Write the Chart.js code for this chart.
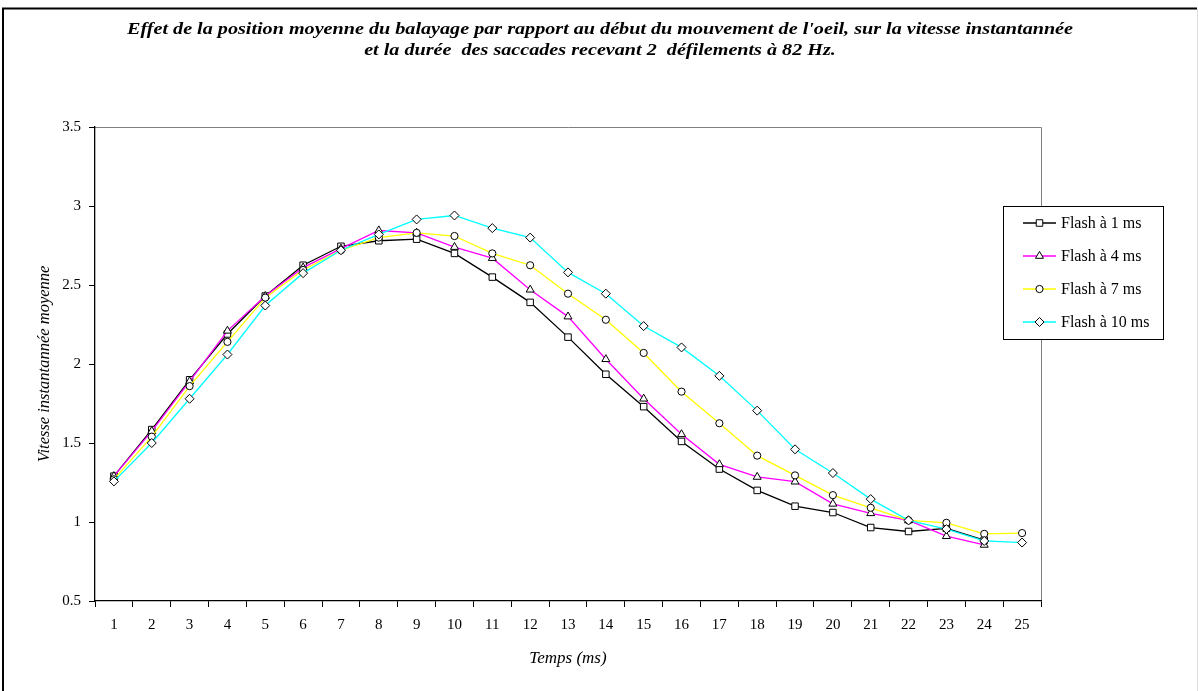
<!DOCTYPE html>
<html>
<head>
<meta charset="utf-8">
<script src="https://cdn.jsdelivr.net/npm/chart.js@4/dist/chart.umd.min.js"></script>
<style>
  html, body { margin: 0; padding: 0; background: #fff; }
  #wrap { width: 1198px; height: 691px; position: relative; }
</style>
</head>
<body>
<div id="wrap"><canvas id="c" width="1198" height="691"></canvas></div>
<script>
// categories (Temps en ms)
const temps = ['1','2','3','4','5','6','7','8','9','10','11','12','13','14','15','16','17','18','19','20','21','22','23','24','25'];

// series
const flash1 = [1.29, 1.585, 1.90, 2.19, 2.43, 2.625, 2.745, 2.78, 2.79, 2.70, 2.55, 2.39, 2.17, 1.935, 1.73, 1.51, 1.335, 1.20, 1.10, 1.06, 0.965, 0.94, 0.96, 0.885];
const flash4 = [1.29, 1.575, 1.89, 2.21, 2.43, 2.61, 2.73, 2.845, 2.83, 2.74, 2.67, 2.47, 2.30, 2.03, 1.78, 1.555, 1.365, 1.285, 1.255, 1.115, 1.055, 1.01, 0.91, 0.855];
const flash7 = [1.27, 1.54, 1.86, 2.14, 2.42, 2.595, 2.72, 2.80, 2.83, 2.81, 2.70, 2.625, 2.445, 2.28, 2.07, 1.825, 1.625, 1.42, 1.295, 1.17, 1.09, 1.01, 0.995, 0.925, 0.93];
const flash10 = [1.257, 1.50, 1.78, 2.06, 2.37, 2.575, 2.72, 2.82, 2.915, 2.94, 2.86, 2.80, 2.58, 2.445, 2.24, 2.105, 1.925, 1.705, 1.46, 1.31, 1.145, 1.01, 0.955, 0.88, 0.87];

const seriesNames = ['Flash à 1 ms', 'Flash à 4 ms', 'Flash à 7 ms', 'Flash à 10 ms'];
const titleLines = [
  "Effet de la position moyenne du balayage par rapport au début du mouvement de l'oeil, sur la vitesse instantannée",
  "et la durée  des saccades recevant 2  défilements à 82 Hz."
];

const SERIF = '"Liberation Serif", "Times New Roman", serif';

function ds(label, data, color, style, radius, order) {
  return {
    label, data, order,
    borderColor: color, borderWidth: 1.3,
    pointStyle: style, pointRadius: radius, pointHoverRadius: radius,
    pointBackgroundColor: '#fff', pointBorderColor: '#000', pointBorderWidth: 1,
    tension: 0, fill: false
  };
}

//frame, title, gray plot border, and the boxed legend on the right
const decor = {
  id: 'decor',
  beforeDraw(chart) {
    const {ctx, chartArea: a} = chart;
    ctx.save();
    ctx.fillStyle = '#fff';
    ctx.fillRect(0, 0, chart.width, chart.height);
    ctx.strokeStyle = '#000';
    ctx.lineWidth = 2;
    ctx.beginPath();
    ctx.moveTo(3, 691); ctx.lineTo(3, 8.5); ctx.lineTo(1197, 8.5);
    ctx.stroke();
    ctx.strokeStyle = '#ddd';
    ctx.lineWidth = 1;
    ctx.beginPath();
    ctx.moveTo(1197.5, 9); ctx.lineTo(1197.5, 691);
    ctx.stroke();
    ctx.strokeStyle = '#808080';
    ctx.beginPath();
    ctx.moveTo(a.left, a.top + 0.5); ctx.lineTo(a.right + 0.5, a.top + 0.5); ctx.lineTo(a.right + 0.5, a.bottom);
    ctx.stroke();
    // title: the original text is stretched wide, so scale it horizontally to the same span
    ctx.font = 'bold italic 17px ' + SERIF;
    const sx = 946 / ctx.measureText(titleLines[0]).width;
    ctx.translate(600, 0);
    ctx.scale(sx, 1);
    ctx.fillStyle = '#000';
    ctx.textAlign = 'center';
    ctx.textBaseline = 'alphabetic';
    ctx.fillText(titleLines[0], 0, 34);
    ctx.fillText(titleLines[1], 0, 55);
    ctx.restore();
  },
  afterDraw(chart) {
    const {ctx} = chart;
    const bx = 1003.5, by = 206.5, bw = 160, bh = 133;
    ctx.save();
    ctx.fillStyle = '#fff';
    ctx.fillRect(bx, by, bw, bh);
    ctx.strokeStyle = '#000';
    ctx.lineWidth = 1;
    ctx.strokeRect(bx, by, bw, bh);
    ctx.font = '16px ' + SERIF;
    ctx.textBaseline = 'middle';
    ctx.textAlign = 'left';
    chart.data.datasets.forEach((d, i) => {
      const y = 223 + i * 33;
      ctx.strokeStyle = d.borderColor;
      ctx.lineWidth = 1.3;
      ctx.beginPath();
      ctx.moveTo(1023, y); ctx.lineTo(1056, y);
      ctx.stroke();
      ctx.fillStyle = '#fff';
      ctx.strokeStyle = '#000';
      ctx.lineWidth = 1;
      Chart.helpers.drawPoint(ctx, {pointStyle: d.pointStyle, radius: d.pointRadius, rotation: 0, borderWidth: 1}, 1039.5, y);
      ctx.fillStyle = '#000';
      ctx.fillText(d.label, 1061, y + 1);
    });
    ctx.restore();
  }
};

new Chart(document.getElementById('c'), {
  type: 'line',
  data: {
    labels: temps,
    datasets: [
      ds(seriesNames[0], flash1, '#000000', 'rect', 4.6, 4),
      ds(seriesNames[1], flash4, '#ff00ff', 'triangle', 4.6, 3),
      ds(seriesNames[2], flash7, '#ffff00', 'circle', 3.6, 2),
      ds(seriesNames[3], flash10, '#00ffff', 'rectRot', 4.5, 1)
    ]
  },
  options: {
    responsive: false,
    animation: false,
    events: [],
    layout: {padding: {left: 0, top: 127, right: 157, bottom: 0}},
    plugins: {legend: {display: false}, title: {display: false}, tooltip: {enabled: false}},
    scales: {
      x: {
        offset: true,
        grid: {display: true, drawOnChartArea: false, offset: true, color: '#000', tickLength: 6, tickWidth: 1},
        border: {color: '#000', width: 1.3},
        ticks: {color: '#000', font: {family: SERIF, size: 15}, padding: 9, maxRotation: 0, autoSkip: false},
        title: {display: true, text: 'Temps (ms)', color: '#000', font: {family: SERIF, size: 17, style: 'italic'}, padding: {top: 0, bottom: 22}},
        afterFit(s) { s.height = 90; }
      },
      y: {
        min: 0.5, max: 3.5,
        grid: {display: true, drawOnChartArea: false, color: '#000', tickLength: 6, tickWidth: 1},
        border: {color: '#000', width: 1.3},
        ticks: {stepSize: 0.5, color: '#000', font: {family: SERIF, size: 15}, padding: 8, callback: v => String(v)},
        title: {display: true, text: 'Vitesse instantannée moyenne', color: '#000', font: {family: SERIF, size: 16.5, style: 'italic'}, padding: {top: 35, bottom: 0}},
        afterFit(s) { s.width = 95; }
      }
    }
  },
  plugins: [decor]
});
</script>
</body>
</html>
